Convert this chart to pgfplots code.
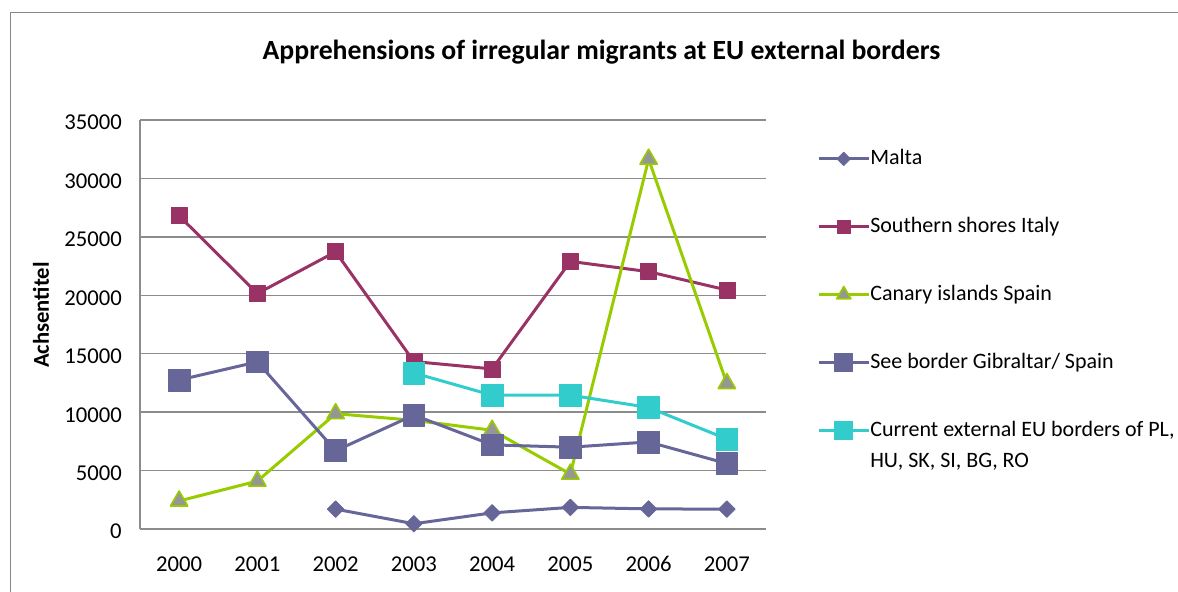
\documentclass[border=0pt]{standalone}
\usepackage{pgfplots}
\pgfplotsset{compat=1.18}
\usepackage{fontspec}
\setmainfont{Carlito}

\definecolor{malta}{HTML}{666699}
\definecolor{italy}{HTML}{993366}
\definecolor{canary}{HTML}{99CC00}
\definecolor{canaryfill}{HTML}{969696}
\definecolor{gibraltar}{HTML}{666699}
\definecolor{eastern}{HTML}{33CCCC}
\definecolor{gridgray}{HTML}{8C8C8C}
\definecolor{framegray}{HTML}{878787}

\pgfplotsset{
  linelegend/.style={
    legend image code/.code={
      \draw[mark repeat=2,mark phase=2,##1,every mark/.append style={scale=0.82}]
        plot coordinates {(0pt,4.5pt) (18.75pt,4.5pt) (37.5pt,4.5pt)};
    }
  }
}

\begin{document}
\begin{tikzpicture}
\useasboundingbox (0,0) rectangle (883.5pt,444pt);

% chart frame (only its top and left edges fall inside the picture)
\draw[framegray, line width=1pt] (7.9pt,0pt) -- (7.9pt,434.6pt) -- (883.5pt,434.6pt);

% chart title
\node[anchor=base, inner sep=0pt, font=\fontsize{20.8pt}{24pt}\selectfont\bfseries]
  at (451.1pt,399.5pt) {Apprehensions of irregular migrants at EU external borders};

\begin{axis}[
  at={(105pt,47.25pt)}, anchor=south west,
  scale only axis, width=469.5pt, height=306.75pt,
  xmin=-0.5, xmax=7.5, ymin=0, ymax=35000,
  xtick={0,...,7},
  xticklabels={2000,2001,2002,2003,2004,2005,2006,2007},
  ytick={0,5000,...,35000},
  scaled y ticks=false,
  yticklabel={\pgfmathprintnumber[fixed,1000 sep={}]{\tick}},
  /pgf/number format/assume math mode=true,
  major tick length=0pt,
  axis lines*=left,
  axis line style={gridgray, line width=1pt},
  ymajorgrids, grid style={gridgray, line width=1pt},
  tick label style={font=\fontsize{17pt}{20pt}\selectfont},
  xticklabel style={anchor=base, inner sep=0pt, yshift=-32.2pt},
  yticklabel style={anchor=base east, inner sep=0pt, xshift=-13.5pt, yshift=-7.4pt},
  ylabel={Achsentitel},
  ylabel style={at={(axis description cs:-0.158,0.523)}, anchor=center,
    font=\fontsize{17pt}{20pt}\selectfont\bfseries},
  legend style={
    at={(axis description cs:1.0815,0.93)}, anchor=north west,
    draw=none, fill=none, inner sep=0pt,
    font=\fontsize{16.5pt}{19.5pt}\selectfont,
    row sep=34.9pt,
    nodes={inner sep=0pt, text height=12pt, text depth=4pt, anchor=base west, xshift=3pt},
  },
  legend cell align=left,
  every axis plot/.append style={line width=2.25pt, line join=round},
]

% Malta
\addplot[malta, linelegend, mark=square*, mark size=4.4pt,
  mark options={rotate=45, fill=malta, draw=malta, line width=0.5pt}]
  coordinates {(2,1700) (3,450) (4,1380) (5,1850) (6,1720) (7,1700)};
\addlegendentry{Malta}

% Southern shores Italy
\addplot[italy, linelegend, mark=square*, mark size=6pt,
  mark options={fill=italy, draw=italy, line width=0.5pt}]
  coordinates {(0,26800) (1,20150) (2,23720) (3,14330) (4,13700) (5,22900) (6,22020) (7,20450)};
\addlegendentry{Southern shores Italy}

% Canary islands Spain
\addplot[canary, linelegend, mark=triangle*, mark size=7.5pt,
  mark options={fill=canaryfill, draw=canary, line width=1.2pt}]
  coordinates {(0,2400) (1,4100) (2,9870) (3,9300) (4,8450) (5,4700) (6,31650) (7,12450)};
\addlegendentry{Canary islands Spain}

% Sea border Gibraltar / Spain
\addplot[gibraltar, linelegend, mark=square*, mark size=8.2pt,
  mark options={fill=gibraltar, draw=gibraltar, line width=0.5pt}]
  coordinates {(0,12750) (1,14300) (2,6700) (3,9750) (4,7200) (5,7000) (6,7450) (7,5600)};
\addlegendentry{See border Gibraltar/ Spain}

% Current external EU borders
\addplot[eastern, linelegend, mark=square*, mark size=8.2pt,
  mark options={fill=eastern, draw=eastern, line width=0.5pt}]
  coordinates {(3,13350) (4,11450) (5,11450) (6,10400) (7,7700)};
\addlegendentry{\parbox[t]{260pt}{\raggedright Current external EU borders of PL,\\[3.5pt]HU, SK, SI, BG, RO}}

\end{axis}
\end{tikzpicture}
\end{document}
